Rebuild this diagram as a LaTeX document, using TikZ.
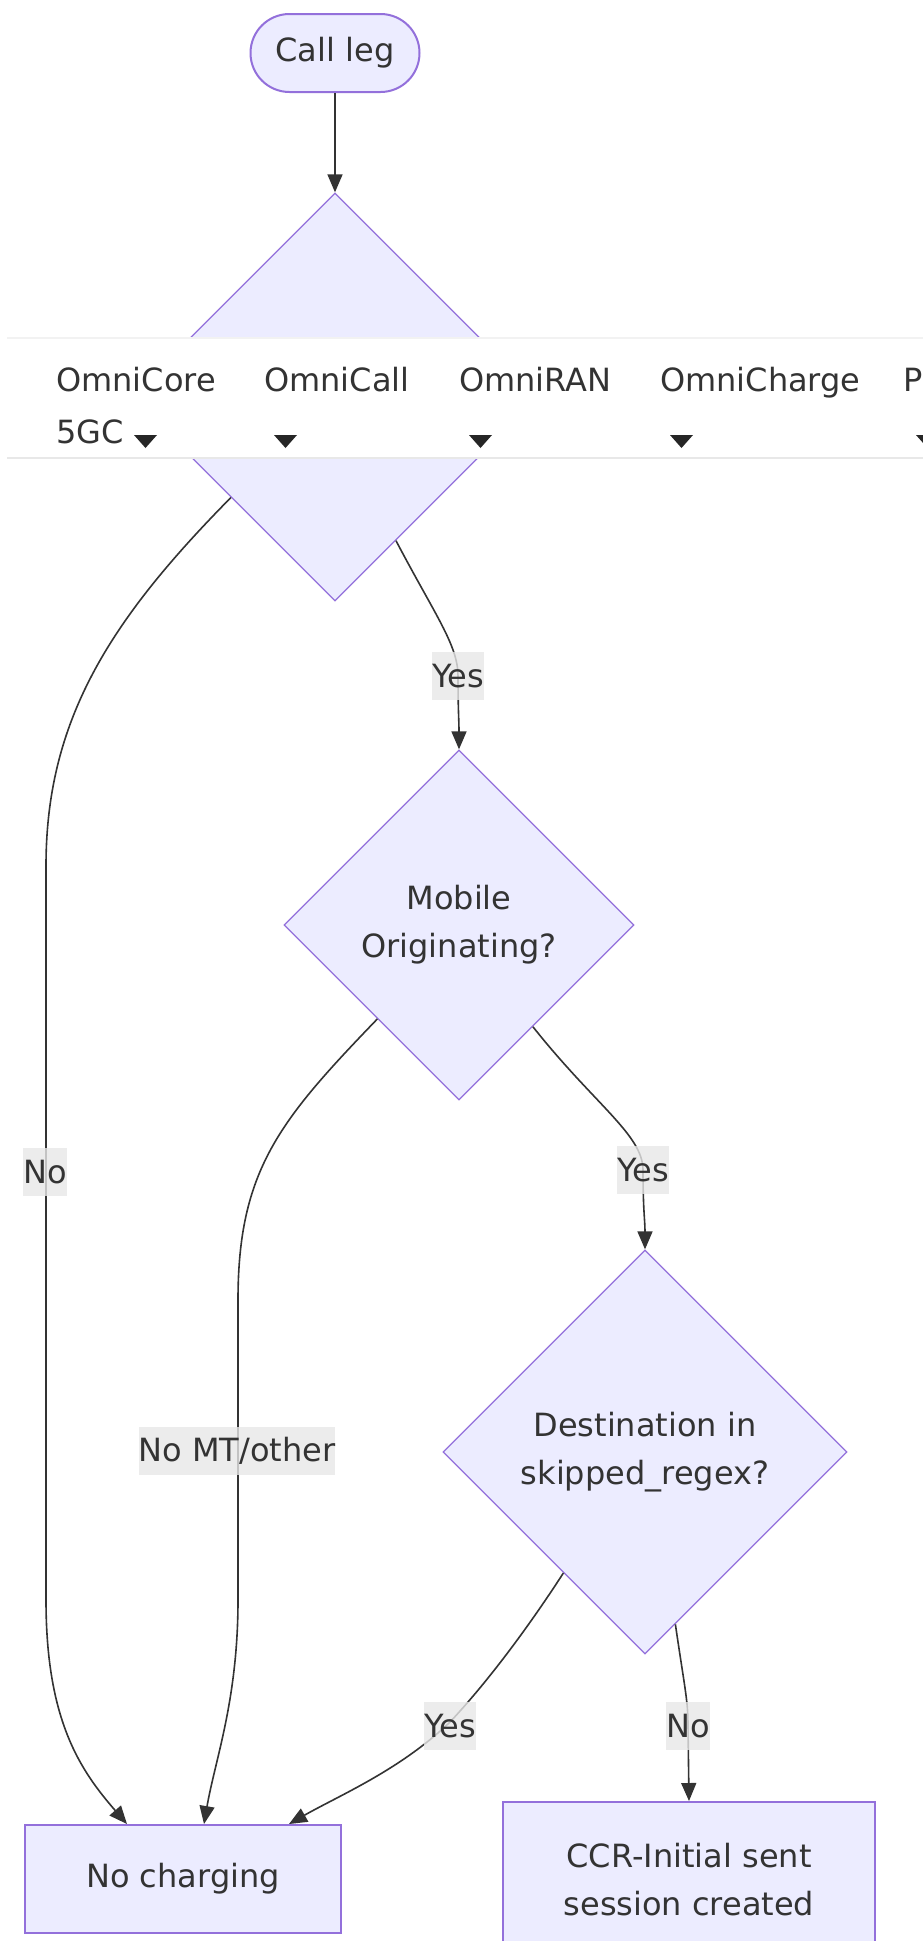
\documentclass[tikz,border=0pt]{standalone}
\usepackage{fontspec}
\setmainfont{DejaVu Sans}
\usetikzlibrary{shapes.geometric, arrows.meta, calc}

\definecolor{nodefill}{HTML}{ECECFF}
\definecolor{nodeline}{HTML}{9370DB}
\definecolor{ink}{HTML}{333333}
\definecolor{lblbg}{HTML}{E8E8E8}

\tikzset{
  box/.style={draw=nodeline, fill=nodefill, line width=2pt, text=ink,
    align=center, inner sep=0pt},
  decision/.style={diamond, shape aspect=1, draw=nodeline, fill=nodefill,
    line width=1.3pt, text=ink, align=center, inner sep=0pt},
  edge/.style={draw=ink, line width=1.6pt, -{Triangle[length=18pt,width=15pt]}},
  lbl/.style={fill=lblbg, fill opacity=0.8, text opacity=1, text=ink,
    inner xsep=0pt, inner ysep=0pt, minimum height=48pt},
  menu/.style={anchor=base west, text=ink, inner sep=0pt},
  caret/.style={fill=black!85},
  every node/.append style={font=\fontsize{32pt}{48pt}\selectfont},
}

\begin{document}
\begin{tikzpicture}[x=1pt, y=-1pt]
  \clip (0,0) rectangle (923,1941);
  \fill[white] (0,0) rectangle (923,1941);

  % flow nodes
  \node[box, rounded corners=39pt, minimum width=169pt, minimum height=78pt] (cl) at (335,53) {Call leg};
  \node[decision, minimum width=408pt, minimum height=408pt] (d1) at (335,397) {};
  \node[decision, minimum width=350pt, minimum height=350pt] (d2) at (459,925) {Mobile\\Originating?};
  \node[decision, minimum width=404pt, minimum height=404pt] (d3) at (645,1452) {Destination in\\skipped\_regex?};
  \node[box, minimum width=316pt, minimum height=108pt] (nc) at (183,1879) {No charging};
  \node[box, minimum width=372pt, minimum height=156pt] (ccr) at (689,1880) {CCR-Initial sent\\session created};

  % connectors
  \draw[edge] (cl) -- (d1);
  \draw[edge] (d1.-136.7) .. controls (110,620) and (46,720) .. (46,866)
    -- (46,1600) .. controls (46,1720) and (80,1770) .. ([xshift=-56pt]nc.north);
  \draw[edge] (d1.-67) .. controls (435,615) and (458,645) .. (458,676)
    .. controls (458,710) and (459,720) .. (d2.north);
  \draw[edge] (d2.-131.5) .. controls (280,1120) and (238,1170) .. (238,1300)
    -- (238,1600) .. controls (238,1700) and (215,1760) .. ([xshift=21pt]nc.north);
  \draw[edge] (d2.-54) .. controls (595,1105) and (643,1135) .. (643,1170)
    .. controls (643,1210) and (645,1220) .. (d3.north);
  \draw[edge] (d3.-124.7) .. controls (520,1640) and (480,1690) .. (450,1722)
    .. controls (400,1770) and (340,1795) .. ([xshift=106pt]nc.north);
  \draw[edge] (d3.-80.9) .. controls (685,1690) and (688,1700) .. (688,1726)
    -- (ccr.north);

  % connector labels
  \node[lbl] (l1) at (45,1172) {No};
  \node[lbl] (l2) at (458,676) {Yes};
  \node[lbl] (l3) at (237,1451) {No MT/other};
  \node[lbl] (l4) at (643,1170) {Yes};
  \node[lbl] (l5) at (450,1726) {Yes};
  \node[lbl] (l6) at (688,1726) {No};

  % navigation bar on top
  \fill[white] (7,338) rectangle (923,458);
  \draw[black!5, line width=1.5pt] (7,338) -- (923,338);
  \draw[black!9, line width=2pt] (7,458) -- (923,458);
  \node[menu] (m1) at (56,391) {OmniCore};
  \node[menu] (m1b) at (56,443) {5GC};
  \node[menu] (m2) at (264,391) {OmniCall};
  \node[menu] (m3) at (459,391) {OmniRAN};
  \node[menu] (m4) at (660,391) {OmniCharge};
  \node[menu] (m5) at (903,391) {P};
  \fill[caret] (134,435) -- (157,435) -- (145.5,448) -- cycle;
  \fill[caret] (274,435) -- (297,435) -- (285.5,448) -- cycle;
  \fill[caret] (469,435) -- (492,435) -- (480.5,448) -- cycle;
  \fill[caret] (670,435) -- (693,435) -- (681.5,448) -- cycle;
  \fill[caret] (916,435) -- (939,435) -- (927.5,448) -- cycle;
\end{tikzpicture}
\end{document}
